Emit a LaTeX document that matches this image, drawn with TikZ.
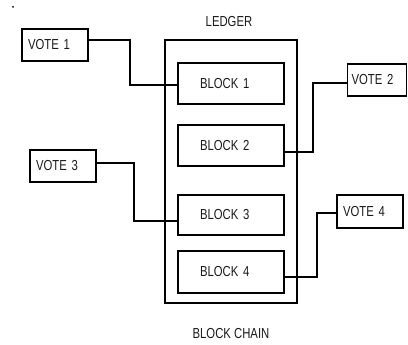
\documentclass[tikz,border=0pt]{standalone}
\usepackage{fontspec}
\newfontfamily\labfont[FakeStretch=0.78]{Liberation Sans}
\begin{document}
\begin{tikzpicture}[x=1pt,y=-1pt,
  every node/.style={font=\labfont\fontsize{14.5}{16}\selectfont, text=black!90},
  frame/.style={draw, line width=1.8pt, inner sep=0pt},
  votebox/.style={frame, minimum height=32pt, align=left, inner xsep=6pt, text width=54pt},
  blockbox/.style={frame, minimum height=41pt, align=left, inner xsep=22pt, text width=62pt},
  wire/.style={line width=1.6pt}]
\useasboundingbox (0,0) rectangle (408,345);
\fill (13,7) circle (1pt);
% ledger frame
\node[frame, minimum width=131.7pt, minimum height=262.7pt] (ledger) at (231,171.3) {};
\node (ledgerlab) at (229,21.5) {LEDGER};
\node (chainlab) at (231,334) {BLOCK CHAIN};
% blocks
\node[blockbox] (b1) at (231,83.5) {BLOCK 1};
\node[blockbox] (b2) at (231,145.5) {BLOCK 2};
\node[blockbox, minimum height=40pt] (b3) at (231,215) {BLOCK 3};
\node[blockbox, minimum height=42pt] (b4) at (231,272) {BLOCK 4};
% votes
\node[votebox] (v1) at (55,45) {VOTE 1};
\node[votebox] (v3) at (63,166) {VOTE 3};
\node[votebox, inner xsep=4pt, text width=51pt] (v2) at (377,80) {VOTE 2};
\node[votebox, minimum height=33pt] (v4) at (370,211.5) {VOTE 4};
% connectors
\draw[wire] ([yshift=5pt]v1.east) -| ([xshift=-47pt,yshift=-1.5pt]b1.west) -- ([yshift=-1.5pt]b1.west);
\draw[wire] ([yshift=3pt]v3.east) -| ([xshift=-43pt,yshift=-6pt]b3.west) -- ([yshift=-6pt]b3.west);
\draw[wire] ([yshift=-3pt]v2.west) -| ([xshift=28pt,yshift=-6.5pt]b2.east) -- ([yshift=-6.5pt]b2.east);
\draw[wire] ([yshift=-1.5pt]v4.west) -| ([xshift=32pt,yshift=-5pt]b4.east) -- ([yshift=-5pt]b4.east);
\end{tikzpicture}
\end{document}
